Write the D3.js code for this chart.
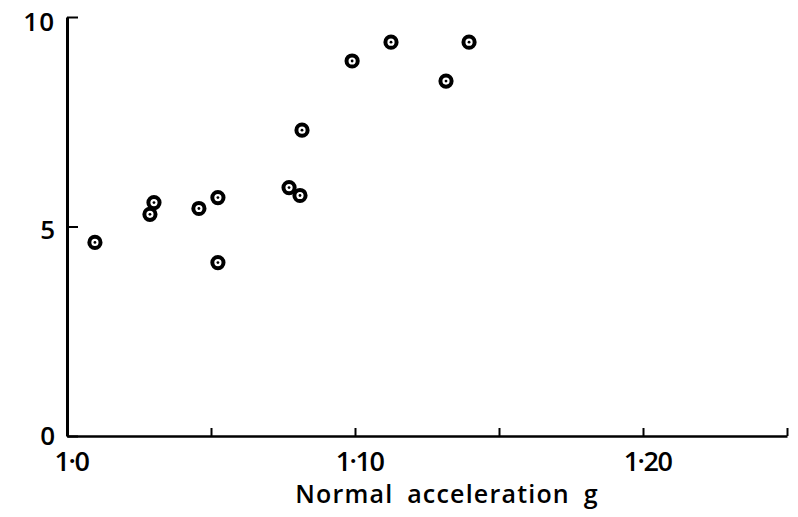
<!DOCTYPE html>
<html><head><meta charset="utf-8">
<script src="https://cdn.jsdelivr.net/npm/d3@7"></script>
<style>
html,body{margin:0;padding:0;background:#fff;}
svg text{font-family:"Open Sans","DejaVu Sans",sans-serif;fill:#000;font-weight:600;}
</style></head>
<body><svg id="c" width="798" height="517"></svg>
<script>
const accel = [1.0097, 1.0288, 1.0302, 1.0458, 1.0524, 1.0524, 1.0771, 1.0809, 1.0816, 1.0990, 1.1125, 1.1316, 1.1396];
const values = [4.62, 5.29, 5.57, 5.43, 5.69, 4.14, 5.93, 5.74, 7.30, 8.95, 9.40, 8.47, 9.40];
const xTicks = [1.0, 1.05, 1.10, 1.15, 1.20, 1.25];
const xTickLabels = {"1":"1·0","1.1":"1·10","1.2":"1·20"};
const yTicks = [0, 5, 10];
const xTitle = "Normal acceleration g";

const svg = d3.select("#c");
const x = d3.scaleLinear().domain([1.0, 1.25]).range([67, 787]);
const y = d3.scaleLinear().domain([0, 10]).range([436, 17]);

// x axis
const gx = svg.append("g").attr("transform", `translate(0,${y(0)})`)
  .call(d3.axisBottom(x).tickValues(xTicks).tickSizeInner(-8).tickSizeOuter(0).tickPadding(16)
    .tickFormat(d => xTickLabels[String(+d.toFixed(2))] || ""));
gx.select(".domain").attr("stroke", "#000").attr("stroke-width", 2.5);
gx.selectAll(".tick line").attr("stroke", "#000").attr("stroke-width", 2);
gx.selectAll(".tick text").attr("font-size", 27).attr("letter-spacing", -1.5)
  .attr("dy", "0.71em").attr("dx", "4");

// y axis
const gy = svg.append("g").attr("transform", `translate(${x(1.0)},0)`)
  .call(d3.axisLeft(y).tickValues(yTicks).tickSizeInner(-11).tickSizeOuter(0).tickPadding(12)
    .tickFormat(d3.format("d")));
gy.select(".domain").attr("stroke", "#000").attr("stroke-width", 3);
gy.selectAll(".tick line").attr("stroke", "#000").attr("stroke-width", 2);
gy.selectAll(".tick text").attr("font-size", 26).attr("text-anchor", "end");
gy.selectAll(".tick").filter(d => d === 10).select("text").attr("dy", "0.5em").attr("letter-spacing", 1);
gy.selectAll(".tick").filter(d => d === 5).select("text").attr("dy", "0.45em");

// title
svg.append("text").attr("x", 447).attr("y", 503).attr("text-anchor", "middle")
  .attr("font-size", 25).attr("letter-spacing", 1.2).attr("word-spacing", 6).text(xTitle);

// points
const pts = svg.append("g").selectAll("g").data(accel.map((a, i) => [a, values[i]])).join("g")
  .attr("transform", d => `translate(${x(d[0])},${y(d[1])})`);
pts.append("circle").attr("r", 5.6).attr("fill", "#fff").attr("stroke", "#000").attr("stroke-width", 4);
pts.append("circle").attr("r", 1.4).attr("fill", "#000");
</script></body></html>
